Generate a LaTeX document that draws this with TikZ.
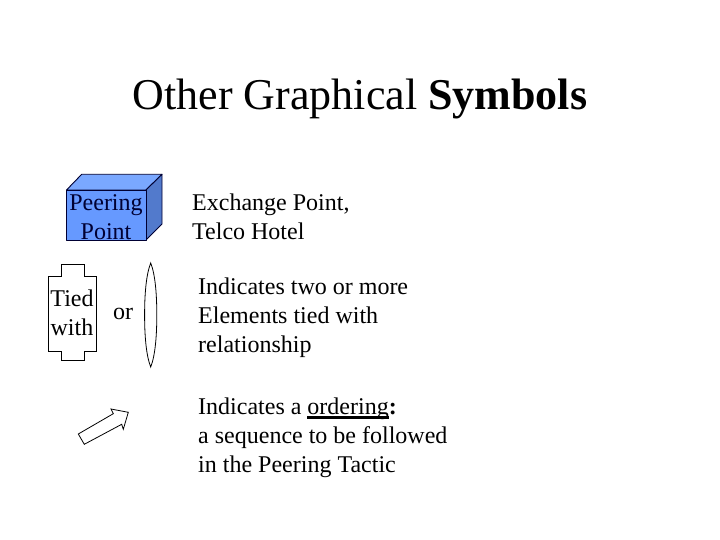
\documentclass[tikz,border=0pt]{standalone}
\usepackage{fontspec}
\setmainfont{Liberation Serif}
\usepackage{calc}
\usepackage{xcolor}
\definecolor{ptfront}{RGB}{102,153,255}
\definecolor{pttop}{RGB}{122,168,255}
\definecolor{ptside}{RGB}{82,122,204}
\definecolor{ptline}{RGB}{0,0,51}
\tikzstyle{body} = [anchor=north west, align=left, font=\fontsize{24}{29}\selectfont, inner sep=0pt]
\tikzstyle{symbol} = [draw=black, line width=0.8pt, line join=miter]
\tikzstyle{cubeface} = [draw=ptline, line width=0.9pt, line join=round]
\newcommand{\thickul}[1]{\leavevmode\rlap{\rule[-4.4pt]{\widthof{#1}}{2.8pt}}#1}
\begin{document}
\begin{tikzpicture}[x=1pt,y=-1pt]
\useasboundingbox (0,0) rectangle (720,540);
\node (title) at (360,99) [font=\fontsize{44}{50}\selectfont] {Other Graphical \textbf{Symbols}};
% Peering point box
\draw[cubeface, fill=pttop] (66.5,190) -- (81.7,174.3) -- (162,174.3) -- (146,190) -- cycle;
\draw[cubeface, fill=ptside] (146,190) -- (162,174.3) -- (162,224) -- (146,240) -- cycle;
\draw[cubeface, fill=ptfront] (66.5,190) rectangle (146,240);
\node (peering) at (106,217) [align=center, text=ptline, font=\fontsize{24}{29}\selectfont] {Peering\\Point};
\node (exchange) at (192,194) [body] {Exchange Point,\\Telco Hotel};
% Tied with
\draw[symbol] (48,276) -- (61,276) -- (61,264) -- (84,264) -- (84,276) -- (96.7,276) -- (96.7,351) -- (84,351) -- (84,360) -- (61,360) -- (61,351) -- (48,351) -- cycle;
\node (tied) at (72,313) [align=center, font=\fontsize{24}{29}\selectfont] {Tied\\with};
\node (or) at (123,314) [font=\fontsize{24}{29}\selectfont] {or};
\draw[symbol] (150.7,263) .. controls (146,275) and (144.6,295) .. (144.6,315) .. controls (144.6,335) and (146,355) .. (150.7,367) .. controls (155.4,355) and (156.8,335) .. (156.8,315) .. controls (156.8,295) and (155.4,275) .. (150.7,263) -- cycle;
\node (indicates) at (198,278) [body] {Indicates two or more\\Elements tied with\\relationship};
% Ordering arrow
\draw[symbol] (78.3,434) -- (84.3,444.3) -- (121.7,424.3) -- (123.3,429.3) -- (128.3,412.3) -- (111,409) -- (113.3,413.7) -- cycle;
\node (ordering) at (198,398) [body] {Indicates a \thickul{ordering}\textbf{:}\\a sequence to be followed\\in the Peering Tactic};
\end{tikzpicture}
\end{document}
